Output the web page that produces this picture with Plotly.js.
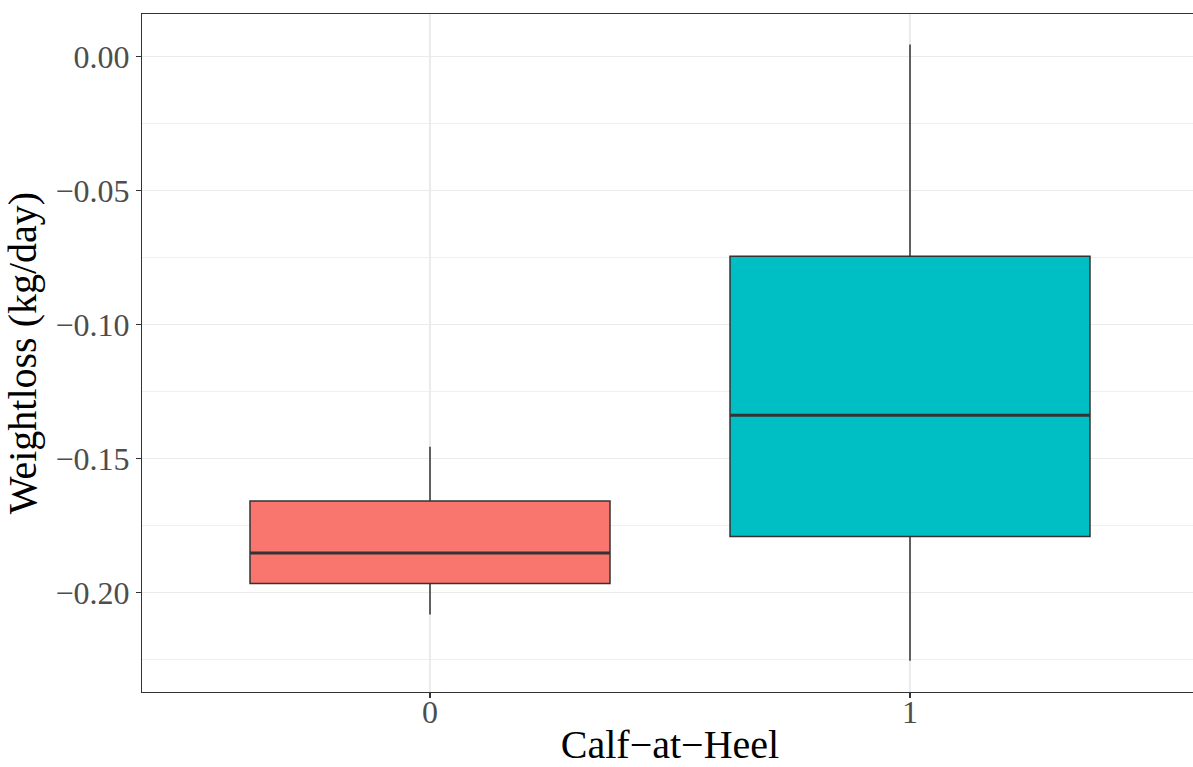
<!DOCTYPE html>
<html>
<head>
<meta charset="utf-8">
<script src="https://cdn.plot.ly/plotly-3.0.1.min.js"></script>
<style>
html, body { margin:0; padding:0; overflow:hidden; background:#fff; }
#chart { width:1198px; height:767px; }
</style>
</head>
<body>
<div id="chart"></div>
<script>
// Data
const categories = ["0", "1"];
const xPos = [0, 1];
const lowerWhisker = [-0.2081, -0.2253];
const q1 = [-0.1965, -0.1790];
const median = [-0.1851, -0.1337];
const q3 = [-0.1657, -0.0744];
const upperWhisker = [-0.1455, 0.0046];
const fillColors = ["#F8766D", "#00BFC4"];

const boxWidth = 0.75;
const traces = [];
for (let i = 0; i < categories.length; i++) {
  traces.push({
    type: "box",
    x: [xPos[i]],
    q1: [q1[i]],
    median: [median[i]],
    q3: [q3[i]],
    lowerfence: [lowerWhisker[i]],
    upperfence: [upperWhisker[i]],
    width: boxWidth,
    whiskerwidth: 0,
    boxpoints: false,
    fillcolor: fillColors[i],
    line: { color: "#333333", width: 1.5 },
    hoverinfo: "skip",
    showlegend: false
  });
}
// thicker median lines (ggplot fatten)
for (let i = 0; i < categories.length; i++) {
  traces.push({
    type: "scatter",
    mode: "lines",
    x: [xPos[i] - boxWidth / 2, xPos[i] + boxWidth / 2],
    y: [median[i], median[i]],
    line: { color: "#333333", width: 3 },
    hoverinfo: "skip",
    showlegend: false
  });
}

const tickFont = { family: "Liberation Serif, Times New Roman, serif", size: 32, color: "#4D4D4D" };
const titleFont = { family: "Liberation Serif, Times New Roman, serif", size: 40, color: "#000000" };

const layout = {
  width: 1198,
  height: 767,
  margin: { l: 142, r: 0, t: 14, b: 75, pad: 0 },
  paper_bgcolor: "#ffffff",
  plot_bgcolor: "#ffffff",
  showlegend: false,
  hovermode: false,
  xaxis: {
    range: [-0.6, 1.6],
    tickmode: "array",
    tickvals: xPos,
    ticktext: categories,
    tickfont: tickFont,
    ticks: "outside",
    ticklen: 5,
    tickwidth: 1.1,
    tickcolor: "#333333",
    ticklabelstandoff: -14,
    showgrid: true,
    gridcolor: "#EBEBEB",
    gridwidth: 1.1,
    zeroline: false,
    showline: true,
    linecolor: "#333333",
    linewidth: 1.1,
    mirror: true,
    title: { text: "Calf\u2212at\u2212Heel", font: titleFont, standoff: 4 }
  },
  yaxis: {
    range: [-0.2370, 0.0160],
    tick0: 0,
    dtick: 0.05,
    tickformat: ".2f",
    tickfont: tickFont,
    ticks: "outside",
    ticklen: 5,
    tickwidth: 1.1,
    tickcolor: "#333333",
    showgrid: true,
    gridcolor: "#EBEBEB",
    gridwidth: 1.1,
    minor: { dtick: 0.025, showgrid: true, gridcolor: "#EBEBEB", gridwidth: 0.8 },
    zeroline: false,
    showline: true,
    linecolor: "#333333",
    linewidth: 1.1,
    mirror: true,
    title: { text: "Weightloss (kg/day)", font: titleFont, standoff: 10 }
  }
};

Plotly.newPlot("chart", traces, layout, { displayModeBar: false, staticPlot: true });
</script>
</body>
</html>
